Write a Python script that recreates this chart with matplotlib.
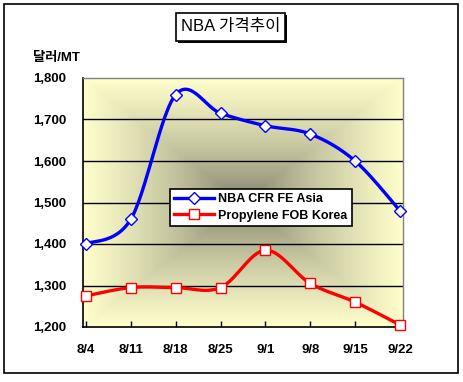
import numpy as np
import matplotlib
matplotlib.use("Agg")
import matplotlib.pyplot as plt
from matplotlib.patches import Rectangle
from matplotlib.lines import Line2D

plt.rcParams['font.family'] = ['Liberation Sans', 'Noto Sans CJK KR', 'DejaVu Sans']

categories = ["8/4", "8/11", "8/18", "8/25", "9/1", "9/8", "9/15", "9/22"]
nba = [1400, 1460, 1760, 1715, 1685, 1665, 1600, 1480]
propylene = [1275, 1295, 1295, 1295, 1385, 1305, 1260, 1205]
yticks = [1200, 1300, 1400, 1500, 1600, 1700, 1800]
ytick_labels = ["1,200", "1,300", "1,400", "1,500", "1,600", "1,700", "1,800"]
series_names = ["NBA CFR FE Asia", "Propylene FOB Korea"]
title = "NBA 가격추이"
ylabel = "달러/MT"

W, H = 464, 382
fig = plt.figure(figsize=(W / 100, H / 100), dpi=100)

def fx(px):
    return px / W

def fy(py):
    return 1 - py / H

# outer frame
fig.patches.append(Rectangle((fx(4), fy(373)), fx(454), 369 / H, transform=fig.transFigure,
                             fill=False, edgecolor='black', lw=1.2, zorder=0))

ax = fig.add_axes([fx(83), fy(327), fx(403) - fx(83), (327 - 78) / H])

x = np.arange(len(categories))
ax.set_xlim(-0.067, len(categories) - 1 + 0.067)
ax.set_ylim(1200, 1800)

# rectangular gradient background (from center)
n = 300
u = np.linspace(-1, 1, n)
U, V = np.meshgrid(u, u)
d = np.maximum(np.abs(U), np.abs(V))
edge = np.array([1.0, 1.0, 0.80])
center = np.array([0.44, 0.44, 0.37])
img = center[None, None, :] + (edge - center)[None, None, :] * d[:, :, None] ** 0.65
ax.imshow(img, extent=[-0.067, len(categories) - 1 + 0.067, 1200, 1800], aspect='auto',
          zorder=0, interpolation='bilinear')

for yv in yticks[1:-1]:
    ax.axhline(yv, color='black', lw=1.0, zorder=1)


def smooth(xs, ys, m=30):
    pts = np.column_stack([xs, ys]).astype(float)
    P = np.vstack([pts[0], pts, pts[-1]])
    out = []
    t = np.linspace(0, 1, m)[:, None]
    for i in range(1, len(P) - 2):
        p0, p1, p2, p3 = P[i - 1], P[i], P[i + 1], P[i + 2]
        c1 = p1 + (p2 - p0) / 6
        c2 = p2 - (p3 - p1) / 6
        seg = ((1 - t) ** 3) * p1 + 3 * ((1 - t) ** 2) * t * c1 + 3 * (1 - t) * t ** 2 * c2 + t ** 3 * p2
        out.append(seg if i == 1 else seg[1:])
    out = np.vstack(out)
    return out[:, 0], out[:, 1]

sx, sy = smooth(x, nba)
ax.plot(sx, sy, color='#0000FF', lw=2.4, zorder=3, solid_capstyle='round', clip_on=False)
ax.plot(x, nba, ls='none', marker='D', ms=6.5, mfc='white', mec='#0000FF', mew=1.0, zorder=4,
        clip_on=False)

sx, sy = smooth(x, propylene)
ax.plot(sx, sy, color='#FF0000', lw=2.4, zorder=3, solid_capstyle='round', clip_on=False)
ax.plot(x, propylene, ls='none', marker='s', ms=7.5, mfc='white', mec='#FF0000', mew=1.0, zorder=4,
        clip_on=False)

ax.set_xticks(x)
ax.set_xticklabels(categories, fontsize=9.5, fontweight='bold')
ax.set_yticks(yticks)
ax.set_yticklabels(ytick_labels, fontsize=9.5, fontweight='bold')
ax.tick_params(axis='x', direction='in', length=4, width=1, pad=12, color='black')
ax.tick_params(axis='y', length=0, pad=12)

for s in ['left', 'bottom']:
    ax.spines[s].set_color('black')
    ax.spines[s].set_linewidth(1.2)
for s in ['top', 'right']:
    ax.spines[s].set_color('#808080')
    ax.spines[s].set_linewidth(1.0)

handles = [
    Line2D([], [], color='#0000FF', lw=2.4, marker='D', ms=6.5, mfc='white', mec='#0000FF'),
    Line2D([], [], color='#FF0000', lw=2.4, marker='s', ms=7.5, mfc='white', mec='#FF0000'),
]
leg = ax.legend(handles, series_names, loc='upper left',
                bbox_to_anchor=(fx(170), fy(189)), bbox_transform=fig.transFigure,
                borderaxespad=0, fancybox=False, framealpha=1, edgecolor='black',
                prop={'weight': 'bold', 'size': 9}, handlelength=3.2, handletextpad=0.3,
                borderpad=0.35, labelspacing=0.35)
leg.get_frame().set_linewidth(1.2)
leg.set_zorder(10)

# title box with shadow
fig.patches.append(Rectangle((fx(178), fy(43)), fx(109), 28 / H, transform=fig.transFigure,
                             facecolor='black', edgecolor='black', lw=0, zorder=1))
fig.patches.append(Rectangle((fx(176), fy(41)), fx(109), 28 / H, transform=fig.transFigure,
                             facecolor='white', edgecolor='black', lw=1.2, zorder=2))
fig.text(fx(230.5), fy(27), title, ha='center', va='center', fontsize=12, zorder=3)

fig.text(fx(33), fy(58), ylabel, ha='left', va='center', fontsize=9.5, fontweight='bold')

fig.savefig("out.png", dpi=100)
